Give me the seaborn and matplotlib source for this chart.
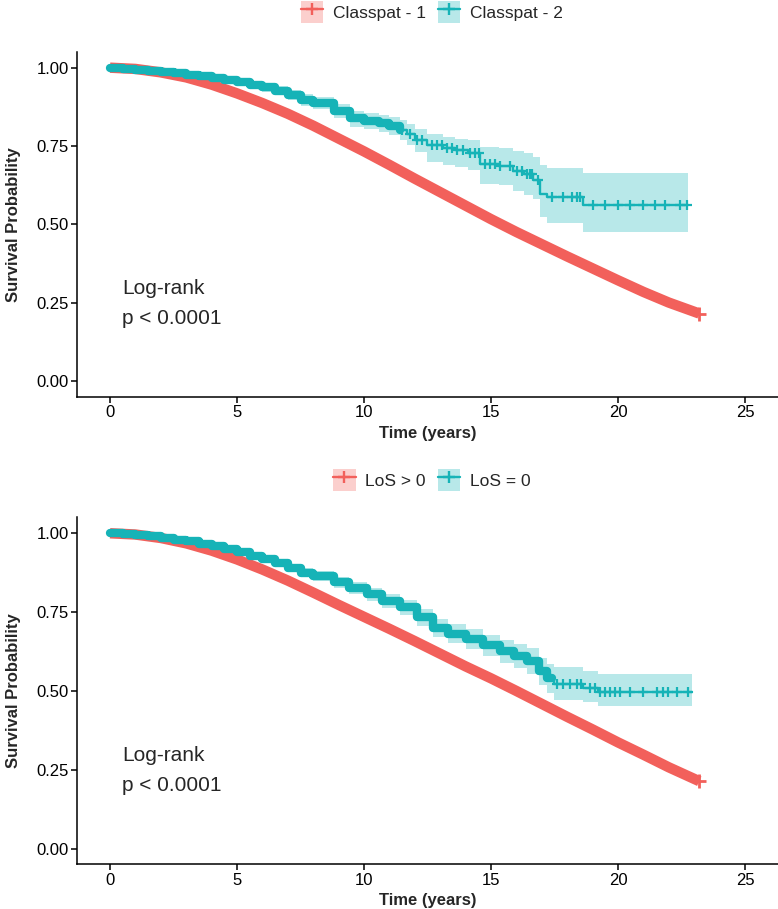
import numpy as np
import seaborn as sns
import matplotlib.pyplot as plt
from matplotlib.patches import Patch
from matplotlib.lines import Line2D

RED = "#F2605B"
TEAL = "#16B3B7"

# ---------------- top panel: Classpat ----------------
top_labels = ["Classpat - 1", "Classpat - 2"]

cp1_time = [0, 1, 2, 3, 4, 5, 6, 7, 8, 9, 10, 11, 12, 13, 14, 15, 16, 17, 18, 19, 20, 21, 22, 23.2]
cp1_surv = [1.0, 0.996, 0.985, 0.969, 0.946, 0.918, 0.887, 0.853, 0.815, 0.774, 0.733, 0.690,
            0.646, 0.603, 0.560, 0.517, 0.476, 0.437, 0.398, 0.360, 0.322, 0.285, 0.251, 0.216]

cp2_time = [0, 0.5, 1.0, 1.5, 2.0, 2.5, 3.0, 3.5, 4.0, 4.5, 5.0, 5.5, 6.0, 6.5, 7.0, 7.5, 8.0,
            8.8, 9.45, 10.0, 10.6, 11.0, 11.4, 11.7, 12.0, 12.47, 13.1, 13.6, 14.1, 14.57, 15.3,
            15.88, 16.3, 16.67, 16.93, 17.2, 18.64]
cp2_surv = [1.0, 0.997, 0.993, 0.990, 0.986, 0.982, 0.977, 0.972, 0.966, 0.960, 0.953, 0.946,
            0.937, 0.927, 0.913, 0.897, 0.888, 0.862, 0.838, 0.830, 0.823, 0.814, 0.800, 0.787,
            0.768, 0.752, 0.745, 0.738, 0.728, 0.692, 0.685, 0.672, 0.660, 0.641, 0.598, 0.588, 0.561]
cp2_lower = [1.0, 0.994, 0.989, 0.985, 0.980, 0.975, 0.969, 0.963, 0.956, 0.949, 0.941, 0.933,
             0.923, 0.912, 0.896, 0.878, 0.868, 0.840, 0.812, 0.803, 0.795, 0.785, 0.768, 0.752,
             0.730, 0.700, 0.690, 0.682, 0.673, 0.630, 0.625, 0.608, 0.595, 0.580, 0.523, 0.504, 0.476]
cp2_upper = [1.0, 1.0, 0.997, 0.995, 0.992, 0.989, 0.985, 0.981, 0.976, 0.971, 0.965, 0.959,
             0.951, 0.942, 0.930, 0.916, 0.908, 0.884, 0.862, 0.856, 0.850, 0.843, 0.832, 0.820,
             0.805, 0.790, 0.780, 0.774, 0.768, 0.746, 0.743, 0.733, 0.728, 0.715, 0.689, 0.679, 0.664]
cp2_end = 22.77
cp2_dense_end = 11.4
cp2_censor = [11.5, 11.8, 12.1, 12.3, 12.66, 12.86, 13.06, 13.25, 13.45, 13.65, 13.91, 14.17,
              14.37, 14.52, 14.76, 14.96, 15.16, 15.35, 15.75, 16.01, 16.21, 16.40, 16.54, 16.62,
              16.86, 17.39, 17.85, 18.18, 18.37, 18.5, 19.03, 19.49, 20.01, 20.47, 21.0, 21.46,
              21.85, 22.44, 22.7]

# ---------------- bottom panel: LoS ----------------
bottom_labels = ["LoS > 0", "LoS = 0"]

los1_time = [0, 1, 2, 3, 4, 5, 6, 7, 8, 9, 10, 11, 12, 13, 14, 15, 16, 17, 18, 19, 20, 21, 22, 23.2]
los1_surv = [1.0, 0.996, 0.985, 0.968, 0.945, 0.917, 0.885, 0.850, 0.812, 0.773, 0.735, 0.697,
             0.658, 0.618, 0.578, 0.540, 0.500, 0.459, 0.418, 0.378, 0.337, 0.298, 0.258, 0.214]

los0_time = [0, 0.5, 1.0, 1.5, 2.0, 2.5, 3.0, 3.5, 4.0, 4.5, 5.0, 5.5, 6.0, 6.5, 7.0, 7.5, 8.0,
             8.8, 9.4, 10.1, 10.7, 11.4, 12.1, 12.7, 13.3, 14.0, 14.7, 15.35, 15.9, 16.4, 16.9,
             17.2, 17.5, 18.62, 19.2]
los0_surv = [1.0, 0.997, 0.994, 0.990, 0.985, 0.980, 0.974, 0.967, 0.959, 0.950, 0.940, 0.929,
             0.918, 0.905, 0.890, 0.875, 0.864, 0.844, 0.826, 0.806, 0.785, 0.765, 0.733, 0.700,
             0.682, 0.664, 0.645, 0.626, 0.611, 0.595, 0.563, 0.540, 0.521, 0.511, 0.496]
los0_lower = [1.0, 0.995, 0.991, 0.986, 0.980, 0.975, 0.968, 0.960, 0.951, 0.941, 0.930, 0.918,
              0.906, 0.892, 0.876, 0.861, 0.849, 0.828, 0.808, 0.786, 0.763, 0.741, 0.707, 0.672,
              0.652, 0.632, 0.611, 0.590, 0.573, 0.555, 0.520, 0.494, 0.471, 0.464, 0.452]
los0_upper = [1.0, 0.999, 0.997, 0.994, 0.990, 0.985, 0.980, 0.974, 0.967, 0.959, 0.950, 0.940,
              0.930, 0.918, 0.904, 0.889, 0.879, 0.860, 0.844, 0.826, 0.807, 0.789, 0.759, 0.728,
              0.712, 0.696, 0.679, 0.662, 0.649, 0.635, 0.606, 0.586, 0.575, 0.563, 0.555]
los0_end = 22.9
los0_dense_end = 17.4
los0_censor = [17.58, 17.85, 18.11, 18.37, 18.55, 18.9, 19.09, 19.29, 19.49, 19.69, 19.88, 20.08,
               20.47, 21.0, 21.52, 21.78, 21.98, 22.31, 22.77]

pval_lines = ["Log-rank", "p < 0.0001"]


def step_at(times, vals, t):
    idx = np.searchsorted(np.asarray(times), t, side="right") - 1
    return np.asarray(vals)[idx]


def draw_panel(ax, red_t, red_s, t, s, lo, hi, t_end, dense_end, censor):
    t_ext = list(t) + [t_end]
    ax.fill_between(t_ext, list(lo) + [lo[-1]], list(hi) + [hi[-1]], step="post",
                    color=TEAL, alpha=0.3, lw=0)
    sns.lineplot(x=red_t, y=red_s, color=RED, lw=7.5, ax=ax, solid_capstyle="butt")
    sns.scatterplot(x=[red_t[-1]], y=[red_s[-1]], marker="+", s=100, color=RED,
                    linewidth=2.0, ax=ax, zorder=4)
    sns.lineplot(x=t_ext, y=list(s) + [s[-1]], drawstyle="steps-post", color=TEAL,
                 lw=1.7, ax=ax)
    d_t = [v for v in t if v <= dense_end] + [dense_end]
    d_s = list(step_at(t, s, d_t))
    sns.lineplot(x=d_t, y=d_s, drawstyle="steps-post", color=TEAL, lw=6, ax=ax)
    sns.scatterplot(x=censor, y=step_at(t, s, censor), marker="+", s=50, color=TEAL,
                    linewidth=1.6, ax=ax, zorder=5)

    ax.set_xlim(-1.3, 26.3)
    ax.set_ylim(-0.05, 1.05)
    ax.set_xticks([0, 5, 10, 15, 20, 25])
    ax.set_yticks([0, 0.25, 0.5, 0.75, 1.0])
    ax.set_yticklabels(["0.00", "0.25", "0.50", "0.75", "1.00"])
    ax.set_xlabel("Time (years)", fontsize=12, fontweight="bold", labelpad=4)
    ax.set_ylabel("Survival Probability", fontsize=12, fontweight="bold", labelpad=11)
    ax.tick_params(labelsize=12, length=4, width=1.1, pad=2, colors="black")
    for sp in ["left", "bottom"]:
        ax.spines[sp].set_linewidth(1.1)
        ax.spines[sp].set_color("black")
    sns.despine(ax=ax)
    ax.text(0.47, 0.297, pval_lines[0], fontsize=15, va="center", ha="left")
    ax.text(0.47, 0.200, pval_lines[1], fontsize=15, va="center", ha="left")


def make_legend(fig, labels, y):
    handles = []
    for c in [RED, TEAL]:
        handles.append((Patch(facecolor=c, alpha=0.3, edgecolor="none"),
                        Line2D([], [], color=c, lw=1.7, marker="+", ms=8, mew=1.7)))
    fig.legend(handles, labels, loc="center", bbox_to_anchor=(0.555, y), ncol=2,
               frameon=False, fontsize=12.5, handlelength=1.3, handleheight=1.6,
               handletextpad=0.55, columnspacing=0.7, borderpad=0)


sns.set_style("ticks")
plt.rcParams["font.family"] = ["Liberation Sans", "DejaVu Sans"]

fig = plt.figure(figsize=(7.78, 9.09), dpi=100)
ax1 = fig.add_axes([0.099, 0.5633, 0.901, 0.3795])
ax2 = fig.add_axes([0.099, 0.049, 0.901, 0.3817])

draw_panel(ax1, cp1_time, cp1_surv, cp2_time, cp2_surv, cp2_lower, cp2_upper,
           cp2_end, cp2_dense_end, cp2_censor)
draw_panel(ax2, los1_time, los1_surv, los0_time, los0_surv, los0_lower, los0_upper,
           los0_end, los0_dense_end, los0_censor)

make_legend(fig, top_labels, 1 - 12 / 909)
make_legend(fig, bottom_labels, 1 - 480 / 909)

fig.savefig("out.png", dpi=100)
